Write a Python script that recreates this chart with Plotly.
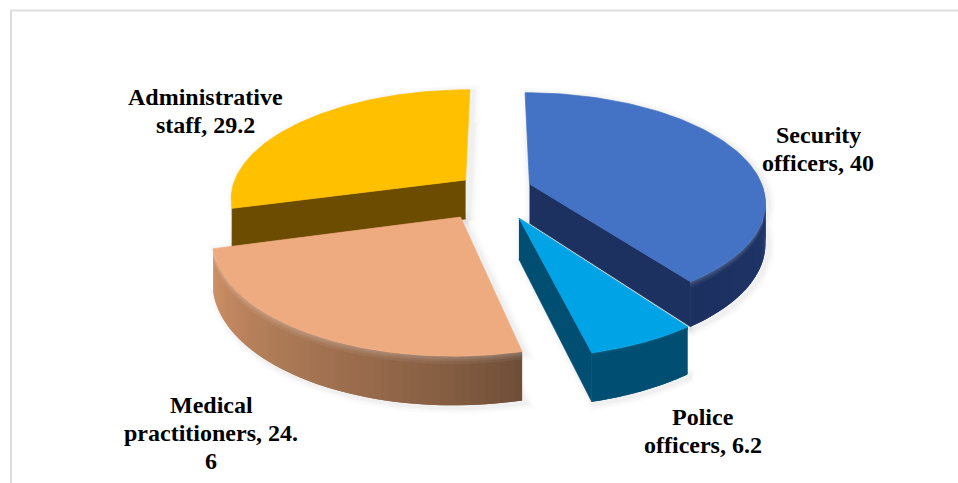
import numpy as np
import plotly.graph_objects as go

# Staff categories and their shares (percent), clockwise from 12 o'clock
categories = ["Security officers", "Police officers", "Medical practitioners", "Administrative staff"]
values = [40, 6.2, 24.6, 29.2]
label_lines = [
    ["Security", "officers, 40"],
    ["Police", "officers, 6.2"],
    ["Medical", "practitioners, 24.", "6"],
    ["Administrative", "staff, 29.2"],
]

# Appearance of each slice
top_colors = ["#4472C4", "#00A3E6", "#EFAB80", "#FFC000"]
wall_colors = ["#1D3160", "#004F73", "#B07C58", "#6B4C00"]
label_centers = [(818, 135), (703, 417), (211, 405), (205, 97)]
LINE_PITCH = 28

# Ground-plane placement of each exploded slice
plane_offsets = [(0.140, 0.130), (0.090, -0.177), (-0.150, -0.169), (-0.136, 0.168)]

# Projection of the ground plane on to the page
CX, CY, SCALE_X, SCALE_Y, PERSPECTIVE, DEPTH = 497, 198, 237, 110, 0.16, 40


def project(theta, radius, offset):
    """Project a polar point on the top of a slice; returns page x, y and wall height."""
    px = radius * np.sin(theta) + offset[0]
    py = radius * np.cos(theta) + offset[1]
    w = 1 + PERSPECTIVE * py
    return CX + SCALE_X * px / w, CY - SCALE_Y * py / w, DEPTH / w


def shade(color, dark, light=0.0):
    """Darken a hex colour by `dark`, then lift it towards white by `light`."""
    rgb = [int(color[i:i + 2], 16) * dark for i in (1, 3, 5)]
    rgb = [min(255.0, c + (255 - c) * light) for c in rgb]
    return "rgb(%d,%d,%d)" % tuple(rgb)


def polygon(xs, ys, color, edge=0.7):
    return go.Scatter(
        x=list(xs), y=list(ys), mode="lines", fill="toself", fillcolor=color,
        line=dict(color=color, width=edge), hoverinfo="skip", showlegend=False,
    )


# Slice angle ranges follow directly from the shares
fractions = np.array(values) / sum(values)
edges = np.concatenate([[0], np.cumsum(fractions)]) * 2 * np.pi
slices = [
    dict(start=edges[i], end=edges[i + 1], off=plane_offsets[i], top=top_colors[i], wall=wall_colors[i])
    for i in range(len(values))
]

traces = []


def outline(s):
    t = np.linspace(s["start"], s["end"], 90)
    x, y, h = project(t, 1.0, s["off"])
    ax, ay, ah = project(0.0, 0.0, s["off"])
    return np.concatenate([[ax], x, [ax]]), np.concatenate([[ay], y, [ay]]), np.concatenate([[ah], h, [ah]])


# Soft drop shadows beneath the solid
for s in slices:
    x, y, h = outline(s)
    bx, by = np.concatenate([x, x[::-1]]), np.concatenate([y, (y + h)[::-1]])
    for width, alpha in [(14, 0.015), (9, 0.02), (5, 0.025)]:
        traces.append(go.Scatter(
            x=bx + 3, y=by + 2, mode="lines", line=dict(color=f"rgba(0,0,0,{alpha})", width=width),
            hoverinfo="skip", showlegend=False,
        ))


def cut_wall(s, theta):
    ax, ay, ah = project(0.0, 0.0, s["off"])
    ox, oy, oh = project(theta, 1.0, s["off"])
    traces.append(polygon([ax, ox, ox, ax], [ay, oy, oy + oh, ay + ah], shade(s["wall"], 1.0)))


def arc_wall(s, t0, t1, tone, bevel=0.18, glow=0.3):
    """Outer rim: narrow overlapping facets, toned by angle, with a light band along the top."""
    ts = np.linspace(t0, t1, 61)
    bands = np.linspace(0.0, bevel, 5)
    for j in range(len(ts) - 1):
        a, b = ts[j], ts[min(j + 2, len(ts) - 1)]
        x0, y0, h0 = project(a, 1.0, s["off"])
        x1, y1, h1 = project(b, 1.0, s["off"])
        base = tone((ts[j] + ts[j + 1]) / 2)
        traces.append(polygon(
            [x0, x1, x1, x0], [y0 + bevel * h0, y1 + bevel * h1, y1 + h1, y0 + h0],
            shade(s["wall"], base), edge=0,
        ))
        for k in range(len(bands) - 1):
            z0, z1 = bands[k], bands[k + 1] + 0.02
            traces.append(polygon(
                [x0, x1, x1, x0], [y0 + z0 * h0, y1 + z0 * h1, y1 + z1 * h1, y0 + z1 * h0],
                shade(s["wall"], base, glow * (1 - k / (len(bands) - 1))), edge=0,
            ))


def top_face(s):
    x, y, _ = outline(s)
    traces.append(polygon(x, y, s["top"]))


sec, pol, med, adm = slices

# Administrative staff sits furthest back on the left
cut_wall(adm, adm["start"])
top_face(adm)

# Security officers: long cut wall plus the visible part of the rim
cut_wall(sec, sec["end"])
arc_wall(sec, np.radians(92), sec["end"],
         lambda a: 1.12 - 0.12 * (a - np.radians(92)) / (sec["end"] - np.radians(92)),
         bevel=0.12, glow=0.18)
top_face(sec)

# Police officers: inner cut wall and rim
cut_wall(pol, pol["end"])
arc_wall(pol, pol["start"], pol["end"], lambda a: 1.0, bevel=0.04, glow=0.1)
top_face(pol)

# Medical practitioners: broad rim running from light on the left to dark on the right
arc_wall(
    med, med["end"], med["start"],
    lambda a: 0.62 + 0.56 * ((a - med["start"]) / (med["end"] - med["start"])) ** 0.8,
    bevel=0.14, glow=0.22,
)
top_face(med)

annotations = []
for lines, (cx, cy) in zip(label_lines, label_centers):
    for k, line in enumerate(lines):
        annotations.append(dict(
            x=cx, y=cy + k * LINE_PITCH, text=f"<b>{line}</b>", showarrow=False,
            xanchor="center", yanchor="middle",
            font=dict(family="Liberation Serif", size=24, color="#000000"),
        ))

# Chart-area frame: the lower and right sides fall outside the visible area
frame = [
    dict(type="line", x0=11, x1=11, y0=10.5, y1=483, line=dict(color="#DDDDDD", width=2)),
    dict(type="line", x0=10, x1=958, y0=10.5, y1=10.5, line=dict(color="#DDDDDD", width=2)),
]

fig = go.Figure(traces)
fig.update_layout(
    width=958, height=483, margin=dict(l=0, r=0, t=0, b=0),
    paper_bgcolor="white", plot_bgcolor="white", showlegend=False,
    xaxis=dict(range=[0, 958], visible=False, fixedrange=True),
    yaxis=dict(range=[483, 0], visible=False, fixedrange=True),
    annotations=annotations, shapes=frame,
)
fig.write_html("out.html")
